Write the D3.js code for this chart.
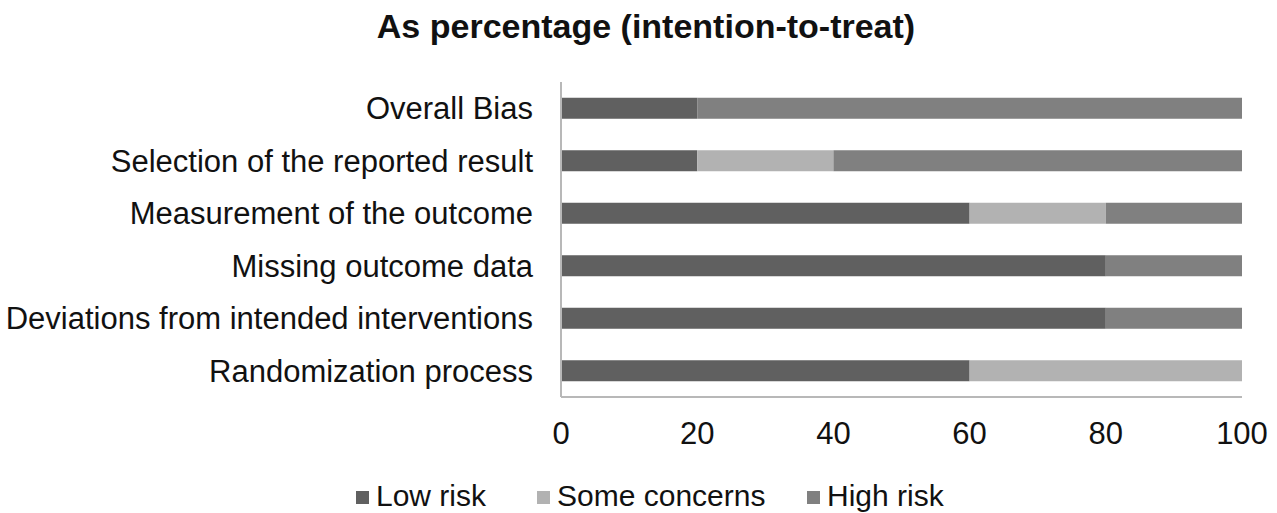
<!DOCTYPE html>
<html>
<head>
<meta charset="utf-8">
<script src="https://cdn.jsdelivr.net/npm/d3@7"></script>
<style>
  body { margin: 0; background: #fff; }
  text { font-family: "Liberation Sans", Arial, sans-serif; fill: #111; }
</style>
</head>
<body>
<div id="chart"></div>
<script>
var domains = ["Overall Bias", "Selection of the reported result", "Measurement of the outcome",
               "Missing outcome data", "Deviations from intended interventions", "Randomization process"];
var lowRisk = [20, 20, 60, 80, 80, 60];
var someConcerns = [0, 20, 20, 0, 0, 40];
var highRisk = [80, 60, 20, 20, 20, 0];
var seriesNames = ["Low risk", "Some concerns", "High risk"];
var xTicks = [0, 20, 40, 60, 80, 100];

var width = 1277, height = 513;
var colors = ["#606060", "#b2b2b2", "#808080"];

var rows = domains.map(function(d, i) {
  return { domain: d, "Low risk": lowRisk[i], "Some concerns": someConcerns[i], "High risk": highRisk[i] };
});
var stacked = d3.stack().keys(seriesNames)(rows);

var svg = d3.select("#chart").append("svg")
  .attr("width", width)
  .attr("height", height);

var x = d3.scaleLinear().domain([0, 100]).range([561, 1242]);
var y = d3.scaleBand().domain(domains).range([82, 397])
  .paddingInner(0.6).paddingOuter(0.3);
var color = d3.scaleOrdinal().domain(seriesNames).range(colors);

// title
svg.append("text")
  .attr("x", 646)
  .attr("y", 38)
  .attr("text-anchor", "middle")
  .attr("font-size", "34px")
  .attr("font-weight", "bold")
  .text("As percentage (intention-to-treat)");

// bars
svg.append("g").selectAll("g")
  .data(stacked)
  .enter().append("g")
    .attr("fill", function(s) { return color(s.key); })
  .selectAll("rect")
  .data(function(s) { return s; })
  .enter().append("rect")
    .attr("x", function(d) { return x(d[0]); })
    .attr("y", function(d) { return y(d.data.domain); })
    .attr("width", function(d) { return x(d[1]) - x(d[0]); })
    .attr("height", y.bandwidth());

// axes lines
svg.append("line")
  .attr("x1", x(0)).attr("x2", x(0))
  .attr("y1", 82).attr("y2", 397)
  .attr("stroke", "#b8b8b8").attr("stroke-width", 2);
svg.append("line")
  .attr("x1", x(0)).attr("x2", x(100))
  .attr("y1", 397).attr("y2", 397)
  .attr("stroke", "#b8b8b8").attr("stroke-width", 2);

// category labels
svg.append("g").selectAll("text")
  .data(domains)
  .enter().append("text")
    .attr("x", 533)
    .attr("y", function(d) { return y(d) + y.bandwidth() / 2; })
    .attr("dy", "0.36em")
    .attr("text-anchor", "end")
    .attr("font-size", "31px")
    .text(function(d) { return d; });

// x tick labels
svg.append("g").selectAll("text")
  .data(xTicks)
  .enter().append("text")
    .attr("x", function(d) { return x(d); })
    .attr("y", 444)
    .attr("text-anchor", "middle")
    .attr("font-size", "31px")
    .text(function(d) { return d; });

// legend
var legendX = [356, 537, 807];
var legend = svg.append("g").selectAll("g")
  .data(seriesNames)
  .enter().append("g")
    .attr("transform", function(d, i) { return "translate(" + legendX[i] + ",0)"; });
legend.append("rect")
  .attr("x", 0).attr("y", 491)
  .attr("width", 13).attr("height", 13)
  .attr("fill", function(d) { return color(d); });
legend.append("text")
  .attr("x", 20).attr("y", 506)
  .attr("font-size", "30px")
  .text(function(d) { return d; });
</script>
</body>
</html>
